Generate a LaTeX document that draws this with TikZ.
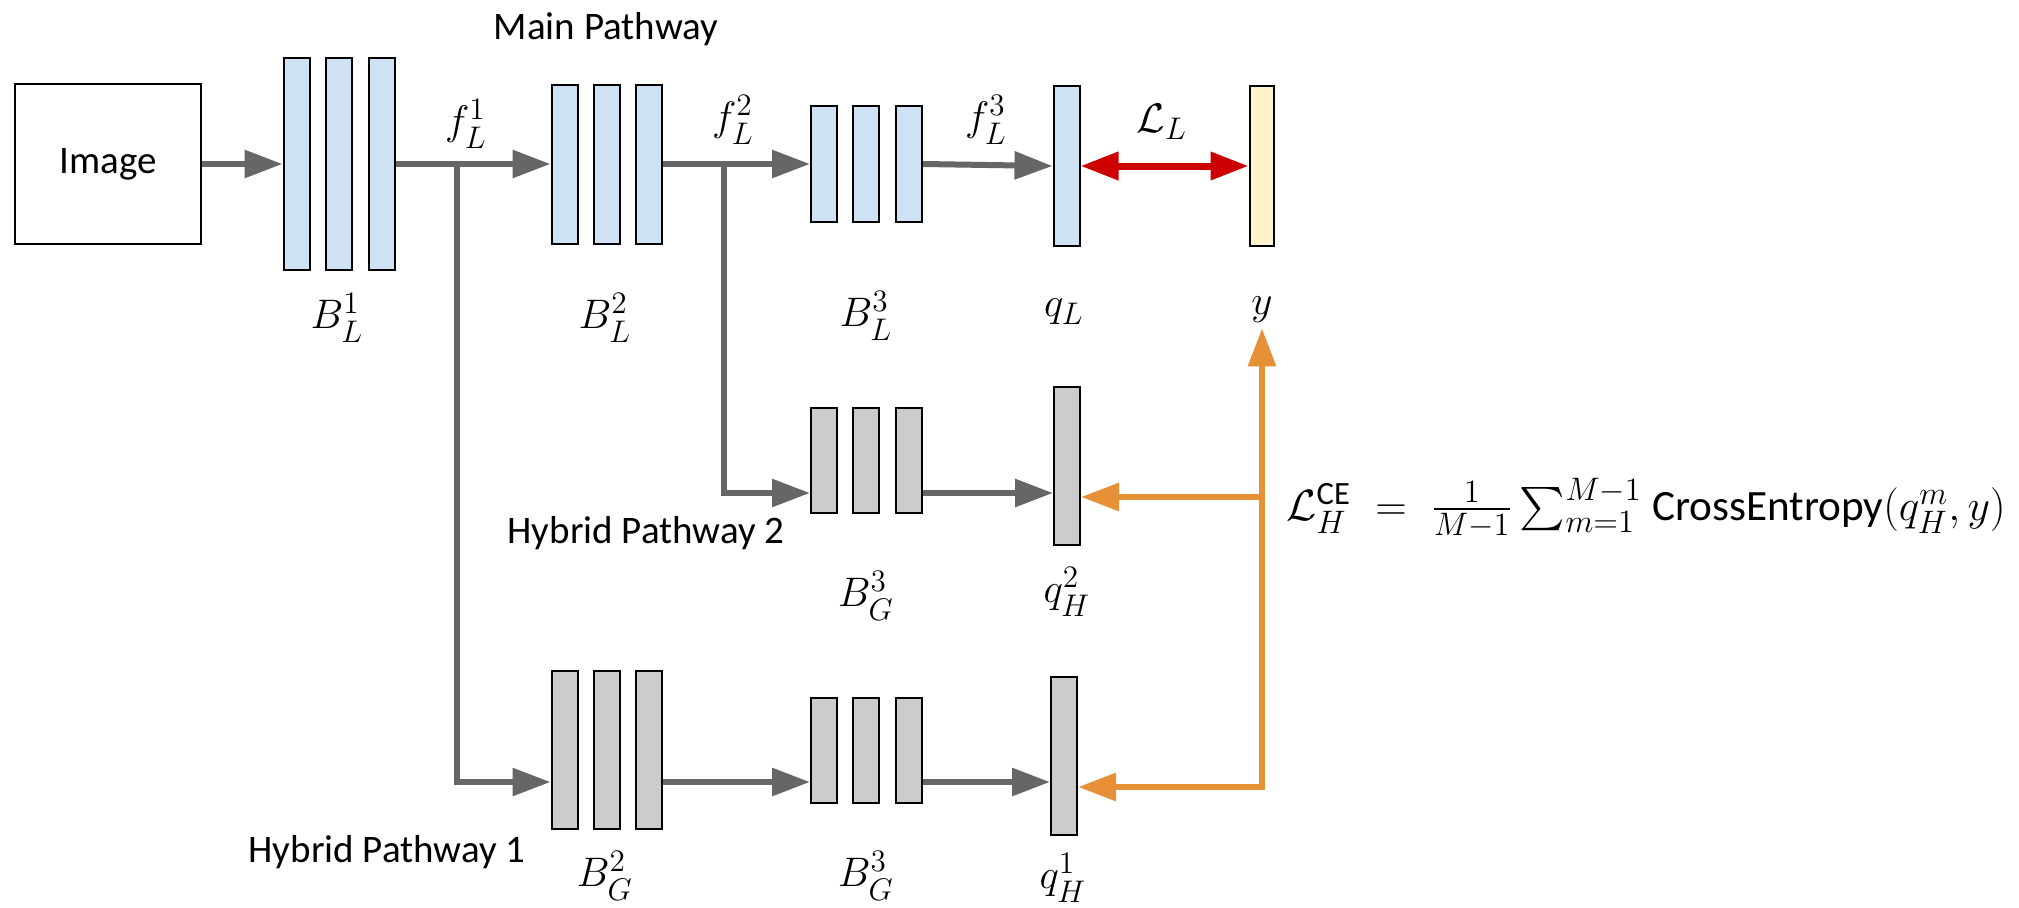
\RequirePackage{fix-cm}
\documentclass[tikz,border=0pt]{standalone}
\usepackage{amsmath}
\usepackage{fontspec}
\setmainfont{Carlito}
\usetikzlibrary{arrows.meta}
\DeclareMathSizes{16.5}{16.5}{12.5}{10}
\DeclareMathSizes{17.5}{17.5}{13}{10}
\definecolor{barblue}{HTML}{CFE2F3}
\definecolor{bargray}{HTML}{CCCCCC}
\definecolor{baryellow}{HTML}{FFF2CC}
\definecolor{linegray}{HTML}{666666}
\definecolor{lossorange}{HTML}{E69138}
\definecolor{lossred}{HTML}{CC0000}
\begin{document}
\begin{tikzpicture}[x=0.4pt,y=-0.4pt,
  font=\fontsize{15.6}{19}\selectfont,
  bar/.style={draw=black, line width=0.8pt, inner sep=0pt, minimum width=10.4pt},
  bluebar/.style={bar, fill=barblue},
  graybar/.style={bar, fill=bargray},
  yellowbar/.style={bar, fill=baryellow, minimum width=9.6pt},
  imgbox/.style={draw=black, line width=0.8pt, minimum width=74.4pt, minimum height=64pt, inner sep=0pt},
  tip/.tip={Triangle[length=15.2pt,width=10.8pt]},
  conn/.style={draw=linegray, line width=2.4pt, -tip},
  redarrow/.style={draw=lossred, line width=2.8pt, tip-tip},
  orangearrow/.style={draw=lossorange, line width=2.4pt},
  lab/.style={inner sep=2pt},
  mlab/.style={inner sep=2pt, font=\fontsize{16.5}{20}\selectfont}
]
\useasboundingbox (0,0) rectangle (2019,907);

% Image
\node[imgbox] (img) at (108,164) {Image};

% Main pathway blocks
\node[bluebar, minimum height=84.8pt] (bl1a) at (296.5,164) {};
\node[bluebar, minimum height=84.8pt] (bl1b) at (339,164) {};
\node[bluebar, minimum height=84.8pt] (bl1c) at (382,164) {};

\node[bluebar, minimum height=63.6pt] (bl2a) at (564.5,164) {};
\node[bluebar, minimum height=63.6pt] (bl2b) at (606.5,164) {};
\node[bluebar, minimum height=63.6pt] (bl2c) at (649,164) {};

\node[bluebar, minimum height=46.4pt] (bl3a) at (824,164) {};
\node[bluebar, minimum height=46.4pt] (bl3b) at (866,164) {};
\node[bluebar, minimum height=46.4pt] (bl3c) at (909,164) {};

\node[bluebar, minimum height=64pt] (ql) at (1066.5,166) {};
\node[yellowbar, minimum height=64pt] (yb) at (1261.5,166) {};

% Hybrid pathway 2
\node[graybar, minimum height=42pt] (bg3a) at (824,460.5) {};
\node[graybar, minimum height=42pt] (bg3b) at (866,460.5) {};
\node[graybar, minimum height=42pt] (bg3c) at (909,460.5) {};
\node[graybar, minimum height=63.2pt] (qh2) at (1067,466) {};

% Hybrid pathway 1
\node[graybar, minimum height=63.2pt] (bg2a) at (564.5,750) {};
\node[graybar, minimum height=63.2pt] (bg2b) at (606.5,750) {};
\node[graybar, minimum height=63.2pt] (bg2c) at (649,750) {};
\node[graybar, minimum height=42pt] (bg3d) at (824,750.5) {};
\node[graybar, minimum height=42pt] (bg3e) at (866,750.5) {};
\node[graybar, minimum height=42pt] (bg3f) at (909,750.5) {};
\node[graybar, minimum height=63.2pt] (qh1) at (1064,756) {};

% helper coordinates
\coordinate (br1) at (457,164);
\coordinate (br2) at (724,164);
\coordinate (rowb) at (0,493);
\coordinate (rowc) at (0,782);
\coordinate (oj) at (1262,497);
\coordinate (oc) at (1262,787);

% labels
\node[lab] (mainlab) at (606,29) {Main Pathway};
\node[lab] (hyb2) at (646,533) {Hybrid Pathway 2};
\node[lab] (hyb1) at (387,852) {Hybrid Pathway 1};

\node[mlab] (f1) at (466,124) {$f_L^1$};
\node[mlab] (f2) at (733,120) {$f_L^2$};
\node[mlab] (f3) at (986,120) {$f_L^3$};
\node[mlab] (LL) at (1162,122) {$\mathcal{L}_L$};

\node[mlab] (lbl1) at (337,318) {$B_L^1$};
\node[mlab] (lbl2) at (605,318) {$B_L^2$};
\node[mlab] (lbl3) at (866,316) {$B_L^3$};
\node[mlab] (lql) at (1064,312) {$q_L$};
\node[mlab] (ylab) at (1262,310) {$y$};

\node[mlab] (lbg3m) at (866,596) {$B_G^3$};
\node[mlab] (lqh2) at (1067,592) {$q_H^2$};

\node[mlab] (lbg2) at (605,876) {$B_G^2$};
\node[mlab] (lbg3b) at (866,876) {$B_G^3$};
\node[mlab] (lqh1) at (1063,878) {$q_H^1$};

\node[lab, anchor=west, font=\fontsize{17.5}{21}\selectfont] (form) at (1281,508)
  {$\mathcal{L}_H^{\text{CE}} \;=\; \frac{1}{M-1}\sum_{m=1}^{M-1}$ {\fontsize{17.3}{21}\selectfont CrossEntropy}$(q_H^m, y)$};

% gray connectors
\draw[conn] (img.east) -- (bl1a.west);
\draw[conn] (bl1c.east) -- (bl2a.west);
\draw[conn] (bl2c.east) -- (bl3a.west);
\draw[conn] (bl3c.east) -- (ql.west);
\draw[conn] (br1) |- (bg2a.west |- rowc);
\draw[conn] (br2) |- (bg3a.west |- rowb);
\draw[conn] (bg3c.east |- rowb) -- (qh2.west |- rowb);
\draw[conn] (bg2c.east |- rowc) -- (bg3d.west |- rowc);
\draw[conn] (bg3f.east |- rowc) -- (qh1.west |- rowc);

% losses
\draw[redarrow] (ql.east) -- (yb.west);
\draw[orangearrow, tip-tip] (qh1.east |- oc) -- (oc) -- (ylab.south);
\draw[orangearrow, -tip] (oj) -- (qh2.east |- oj);
\end{tikzpicture}
\end{document}
